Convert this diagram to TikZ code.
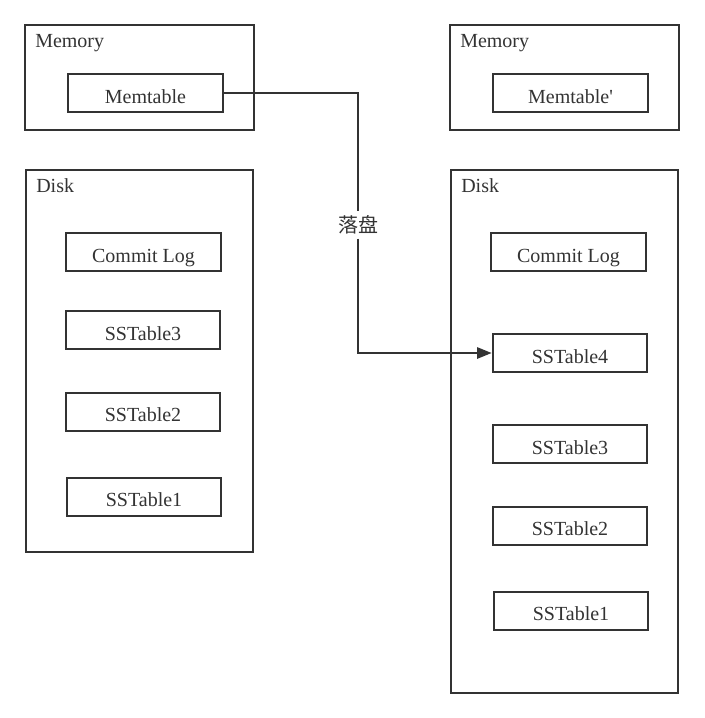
\documentclass[tikz,border=0pt]{standalone}
\usepackage{fontspec}
\setmainfont{Liberation Serif}
\newfontfamily\cjk{Noto Sans CJK SC}
\usetikzlibrary{arrows.meta}
\definecolor{ink}{HTML}{333333}

\tikzset{
  tbl/.style={draw=ink, line width=1.5pt, minimum width=116pt, minimum height=28.5pt,
    inner sep=0pt, text height=15pt, text depth=0pt, text=ink, font=\fontsize{15}{18}\selectfont},
  area/.style={draw=ink, line width=1.5pt, minimum width=#1, inner sep=0pt},
  title/.style={anchor=base west, inner sep=0pt, text=ink, font=\fontsize{15}{18}\selectfont},
  conn/.style={draw=ink, line width=1.5pt},
}

\begin{document}
\begin{tikzpicture}[x=0.75pt,y=-0.75pt]
\useasboundingbox (0,0) rectangle (704,718);

% left side
\node[area=171.75pt, minimum height=78.75pt] (memL) at (139.5,77.5) {};
\node[title] (memLt) at (35,47) {Memory};
\node[tbl] (mt) at (145.5,93) {Memtable};

\node[area=170.25pt, minimum height=286.5pt] (diskL) at (139.5,361) {};
\node[title] (diskLt) at (36,192) {Disk};
\node[tbl] (logL) at (143.5,252) {Commit Log};
\node[tbl] (ss3L) at (143,330) {SSTable3};
\node[tbl] (ss2L) at (143,411.5) {SSTable2};
\node[tbl] (ss1L) at (144,496.5) {SSTable1};

% right side
\node[area=171.75pt, minimum height=78.75pt] (memR) at (564.5,77.5) {};
\node[title] (memRt) at (460,47) {Memory};
\node[tbl] (mtR) at (570.5,93) {Memtable\textquotesingle};

\node[area=170.25pt, minimum height=392.25pt] (diskR) at (564.5,431.5) {};
\node[title] (diskRt) at (461,192) {Disk};
\node[tbl] (logR) at (568.5,252) {Commit Log};
\node[tbl] (ss4R) at (570,353) {SSTable4};
\node[tbl] (ss3R) at (570,444) {SSTable3};
\node[tbl] (ss2R) at (570,525.5) {SSTable2};
\node[tbl] (ss1R) at (571,610.5) {SSTable1};

% flush
\node[inner xsep=0pt, inner ysep=3pt, text=ink, font=\cjk\fontsize{15}{18}\selectfont] (flush) at (358,225) {落盘};
\draw[conn] (mt.east) -| (flush.north);
\draw[conn, -{Triangle[length=11pt,width=8.5pt]}] (flush.south) |- (ss4R.west);

\end{tikzpicture}
\end{document}
